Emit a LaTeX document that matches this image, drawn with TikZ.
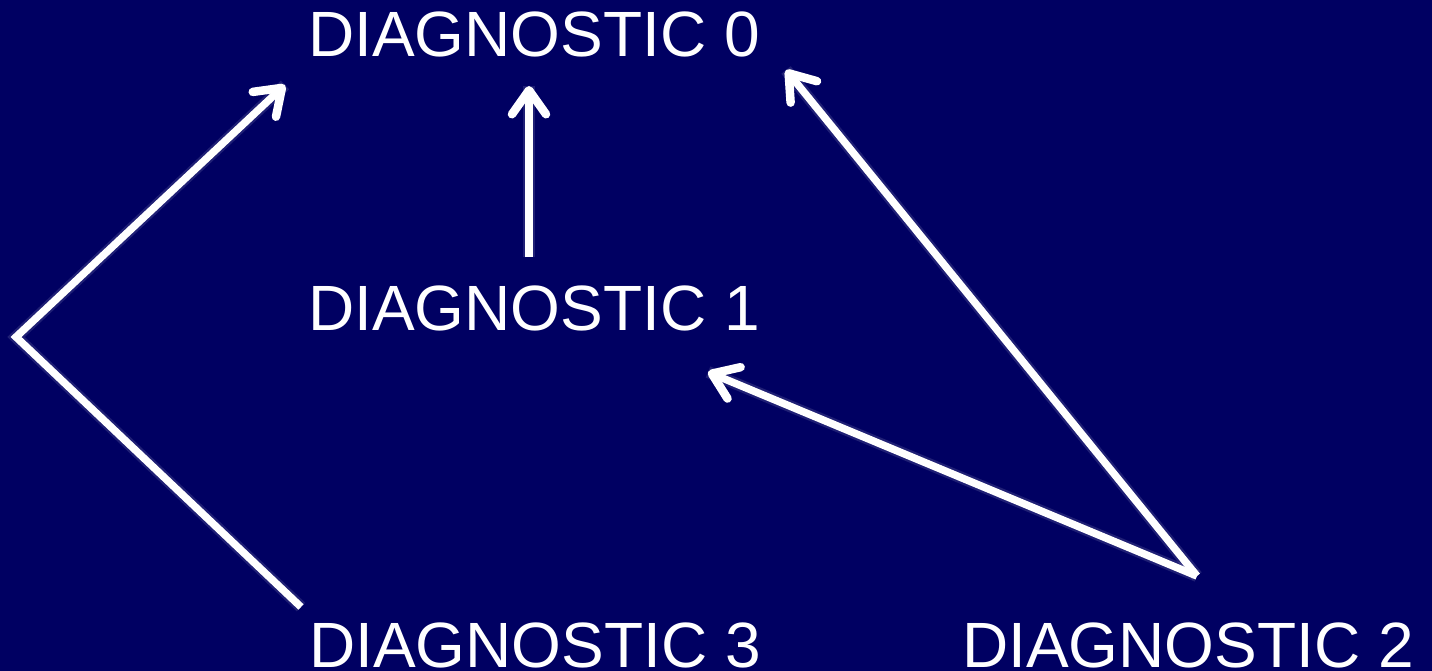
\documentclass[tikz,border=0pt]{standalone}
\usepackage{fontspec}
\setmainfont{Liberation Sans}
\usetikzlibrary{arrows.meta}
\definecolor{bgblue}{RGB}{0,0,98}
\tikzset{
  lbl/.style={anchor=base west, inner sep=0pt, text=white, font=\fontsize{64}{72}\selectfont},
  conn/.style={draw=white, line width=7.5pt, line join=miter},
  head/.style={-{Straight Barb[length=24pt, width=34pt, line cap=round, line join=round, line width=8.5pt]}},
  glow/.style={draw=white, line width=12pt, opacity=0.12}
}
\begin{document}
\begin{tikzpicture}[x=1pt, y=-1pt]
\fill[bgblue] (0,0) rectangle (1432,671);
\useasboundingbox (0,0) rectangle (1432,671);
\node[lbl] (d0) at (308,57) {DIAGNOSTIC 0};
\node[lbl] (d1) at (308,330) {DIAGNOSTIC 1};
\node[lbl] (d3) at (309,667) {DIAGNOSTIC 3};
\node[lbl] (d2) at (962,667) {DIAGNOSTIC 2};
\coordinate (c3) at (301,607);
\coordinate (cl) at (16,337);
\coordinate (t0a) at (285,85);
\coordinate (s1) at (529,257);
\coordinate (t0b) at (529,86);
\coordinate (c2) at (1197,576);
\coordinate (t1) at (708,372);
\coordinate (t0c) at (786,70);
\path[glow] (c3) -- (cl) -- (t0a);
\path[glow] (s1) -- (t0b);
\path[glow] (c2) -- (t1);
\path[glow] (c2) -- (t0c);
\path[conn, head] (c3) -- (cl) -- (t0a);
\path[conn, head] (s1) -- (t0b);
\path[conn, head] (c2) -- (t1);
\path[conn, head] (c2) -- (t0c);
\end{tikzpicture}
\end{document}
